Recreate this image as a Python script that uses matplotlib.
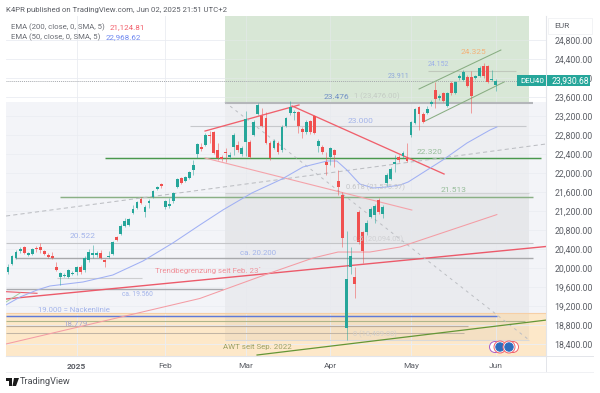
import matplotlib
matplotlib.use("Agg")
import matplotlib.pyplot as plt
from matplotlib.patches import Rectangle, Circle, Polygon
from matplotlib.transforms import IdentityTransform

plt.rcParams['font.family'] = ['Roboto', 'DejaVu Sans']

opens = [19916,20085,20211,20358,20443,20274,20295,20432,20443,20358,20274,20253,20022,19811,19832,19811,19874,19916,20022,19958,
 20169,20274,20274,20316,20169,20232,20295,20653,20716,20885,20906,21158,21264,21453,21179,21369,21495,21664,21769,21285,
 21306,21411,21706,21895,21832,21895,22063,22400,22548,22590,22800,22863,22484,22337,22442,22337,22548,22590,22400,22653,
 22653,22800,23242,23200,23158,22632,22527,22632,22484,22990,23263,23263,23284,22927,22863,23095,23200,22569,22548,22232,
 22337,22484,21832,21537,18738,20022,19811,21179,20758,20758,21074,21116,21432,21137,21790,21874,22190,22337,22358,22316,
 22800,23053,23390,23242,23263,23453,23747,23579,23684,23411,23895,23684,24000,23958,24021,24021,24000,24042,24253,24253,
 23958,23853]
closes = [20022,20243,20337,20400,20316,20316,20400,20400,20390,20295,20232,20211,19958,19895,19853,19958,19895,20022,19916,20211,
 20337,20306,20306,20211,20127,20253,20548,20590,20885,20990,21032,21243,21390,21369,21285,21411,21621,21706,21727,21411,
 21348,21579,21874,21790,21916,22021,22169,22611,22505,22800,22779,22421,22316,22295,22421,22379,22800,22484,22527,23137,
 22337,23074,23432,22990,22632,22316,22674,22442,22969,23158,23390,23284,22990,22863,23074,22863,22842,22674,22442,22169,
 22527,22379,21706,20632,19769,20253,19664,20548,20358,20948,21243,21306,21179,21285,21958,22084,22232,22274,22421,22253,
 23074,23348,23242,23074,23348,23495,23558,23621,23516,23684,23684,23916,24032,24126,23832,23621,24032,24211,24042,23916,
 23979,23930.68]
highs = [20085,20274,20379,20443,20464,20337,20422,20464,20527,20379,20316,20337,20127,19916,19895,19979,19937,20043,20064,20253,
 20400,20485,20358,20379,20190,20358,20569,20674,20927,21053,21053,21327,21411,21495,21327,21453,21642,21727,21790,21432,
 21474,21600,21895,21916,21937,22042,22274,22632,22632,22842,22884,22884,22632,22379,22527,22442,22842,22674,22569,23305,
 22695,23116,23474,23369,23284,22674,22716,22674,23011,23179,23516,23326,23305,22969,23116,23116,23221,22716,22590,22442,
 22548,22505,22063,21600,20779,20443,20022,21221,20779,21011,21285,21348,21474,21327,22000,22127,22379,22379,22463,22632,
 23095,23369,23411,23284,23411,23537,23916,23663,23705,23705,23937,23937,24084,24168,24063,24147,24063,24253,24316,24274,
 24168,23979]
lows = [19874,20064,20190,20316,20295,20253,20274,20337,20316,20274,20211,20190,19937,19643,19811,19790,19853,19853,19874,19916,
 20127,20211,20232,20190,20022,20211,20274,20569,20695,20864,20885,21137,21243,21348,21074,21264,21474,21642,21685,21243,
 21264,21369,21685,21769,21811,21874,21958,22316,22463,22569,22632,22400,22274,22253,22232,22295,22379,22442,22358,22358,
 22316,22779,23221,22969,22611,22274,22505,22400,22442,22969,23221,23116,22842,22737,22821,22821,22821,22442,22400,21958,
 22169,22127,21537,20443,18485,19874,19369,20506,20106,20695,21053,20948,21137,21053,21727,21853,22021,22232,22316,22232,
 22758,23032,22905,23053,23242,23411,23369,23537,23495,23390,23642,23663,23958,23937,23811,23263,23979,24021,24000,23895,
 23937,23726]

ema50_x = [-0.5,3,7.2,10.4,18.6,26,33.5,40.9,47.6,53.3,60.5,68,73.2,79.2,81.6,84.1,87.3,90.6,94,97.3,99.3,107.9,113.9,119.6,121.3]
ema50_y = [19222,19390,19537,19622,19706,19853,20148,20527,20906,21221,21579,21874,22127,22253,22253,22063,21769,21685,21706,21748,21811,22274,22632,22905,22968.62]
ema200_x = [-0.5,47.6,65,75.7,81.9,89.8,97.3,121.3]
ema200_y = [18401,19359,19895,20211,20337,20337,20443,21124.81]

month_pos = [17,39,59,80,100,121]
month_labels = ['2025','Feb','Mar','Apr','May','Jun']
price_ticks = list(range(18400,25000,400))

# level, start bar, end bar, colour, width
levels = [
 (23476,53.8,130.3,'#b4b6ba',1.5),
 (23000,45.2,128.5,'#c6c8cc',0.8),
 (24152,104.2,126,'#c0c8bc',0.8),
 (22320,24,132.3,'#4a984d',1.05),
 (21575.97,53.8,129.3,'#d2d3d5',0.8),
 (21495,13,130.2,'#8ab085',1.05),
 (20522,-0.5,130.3,'#c4c5c8',0.8),
 (20215,1.7,130.3,'#a8a9ac',1.0),
 (19800,12.2,33.2,'#cdced0',0.8),
 (19560,-0.5,53.3,'#a9aaaf',1.0),
 (19053,-0.5,133.5,'#f6cfa6',0.8),
 (19000,-0.5,121.3,'#5f7ad8',1.05),
 (18895,-0.5,128.3,'#aeb68c',0.8),
 (18779,-0.5,114.2,'#bbac9c',0.85),
 (18622,-0.5,113.2,'#c2b5a5',0.75),
 (18485,53.8,129.3,'#d9d9d9',0.8),
]
# start bar, start price, end bar, end price, colour, width, style
trends = [
 (48.9,22884,72.2,23432,'#f0606c',0.95,'-'),
 (70.5,23411,108.2,21979,'#f0606c',0.95,'-'),
 (48.9,22316,100.2,21221,'#f5a3aa',0.8,'-'),
 (-0.5,19348,133.5,20453,'#ec5a6a',1.0,'-'),
 (-0.5,19502,7.2,19468,'#ec5a6a',0.8,'-'),
 (-0.5,21095,133.5,22611,'#bcbec3',0.75,(0,(4,3))),
 (53.8,23495,129.3,18485,'#bcbec3',0.7,(0,(3,4))),
 (102,23769,122.3,24589,'#88ad82',0.75,'-'),
 (103.5,23095,123.1,23916,'#88ad82',0.75,'-'),
 (61.8,18169,133.7,18906,'#649636',0.9,'-'),
 (-0.5,19285,3,19474,'#a6cba3',0.7,'-'),
]

W, H = 600, 393
fig = plt.figure(figsize=(W/100, H/100), dpi=100, facecolor='white')
L, R, T, B = 6, 546, 16, 356
ax = fig.add_axes([L/W, 1-B/H, (R-L)/W, (B-T)/H], facecolor='white')
ax.set_xlim((L-8)/4.03, (R-8)/4.03)
ax.set_ylim(25642-21.05*B, 25642-21.05*T)
for s in ['top','left']:
    ax.spines[s].set_visible(False)
ax.spines['right'].set_color('#e3e5ea'); ax.spines['bottom'].set_color('#e3e5ea')
ax.spines['right'].set_linewidth(0.8); ax.spines['bottom'].set_linewidth(0.8)

ax.set_yticks(price_ticks)
ax.set_yticklabels([f'{p:,.2f}' for p in price_ticks], fontsize=6.3, color='#5c5f66')
ax.yaxis.tick_right()
ax.tick_params(axis='y', length=0, pad=6)
ax.set_xticks(month_pos)
ax.set_xticklabels(month_labels, fontsize=6.0, color='#5c5f66')
ax.get_xticklabels()[0].set_fontweight('bold')
ax.tick_params(axis='x', length=0, pad=5)
ax.grid(True, color='#f0f2f6', lw=0.6, zorder=0)
ax.set_axisbelow(True)

xl = ax.get_xlim(); yl = ax.get_ylim()
ax.fill_between(xl, 19053, 23495, color='#f3f4f8', lw=0, zorder=0.5)
ax.fill_between(xl, yl[0], 19053, color='#fde8c9', lw=0, zorder=0.5)
ax.fill_between([53.8,129.3], 23495, yl[1], color='#d8e7d6', lw=0, zorder=0.6)
ax.fill_between([53.8,129.3], 21575.97, 23476, color='#808080', alpha=0.05, lw=0, zorder=0.6)
ax.fill_between([53.8,129.3], 20522, 21575.97, color='#808080', alpha=0.11, lw=0, zorder=0.6)
ax.fill_between([53.8,129.3], 18485, 20522, color='#808080', alpha=0.07, lw=0, zorder=0.6)
for gp in price_ticks:
    ax.plot(xl, [gp,gp], color='#e8eaf0', lw=0.5, zorder=0.7, alpha=0.6)
for gx in month_pos:
    ax.plot([gx,gx], yl, color='#e8eaf0', lw=0.5, zorder=0.7, alpha=0.7)

ax.axhline(closes[-1], color='#a6a9ae', lw=0.7, ls=(0,(1,1)), zorder=1.5)
for p,x0,x1,c,w in levels:
    ax.plot([x0,x1],[p,p],color=c,lw=w,zorder=2,solid_capstyle='butt')
for x0,y0,x1,y1,c,w,st in trends:
    ax.plot([x0,x1],[y0,y1],color=c,lw=w,ls=st,zorder=2.2)
ax.plot(ema200_x, ema200_y, color='#f49ca4', lw=0.75, zorder=2.3)
ax.plot(ema50_x, ema50_y, color='#a0b0f4', lw=0.75, zorder=2.3)

UP, DOWN = '#26a69a', '#f0504f'
idx = list(range(len(opens)))
cols = [UP if c >= o else DOWN for o, c in zip(opens, closes)]
ax.vlines(idx, lows, highs, colors=cols, lw=0.6, alpha=0.6, zorder=3)
ax.bar(idx, [max(abs(c-o),25) for o,c in zip(opens,closes)],
       bottom=[min(o,c) for o,c in zip(opens,closes)], width=0.7, color=cols, lw=0, zorder=3.1)

def T_(x, y, s, **kw):
    kw.setdefault('fontsize', 6.2); kw.setdefault('va', 'center')
    return fig.text(x/W, 1-y/H, s, zorder=6, **kw)

T_(6,10,'K4PR published on TradingView.com, Jun 02, 2025 21:51 UTC+2',color='#5c5f66',fontsize=5.6)
T_(11,27,'EMA (200, close, 0, SMA, 5)',color='#6a6d74',fontsize=5.6)
T_(110,27,'21,124.81',color='#f2606c',fontsize=5.8)
T_(11,37,'EMA (50, close, 0, SMA, 5)',color='#6a6d74',fontsize=5.6)
T_(106,37,'22,968.62',color='#6f88f0',fontsize=5.8)

T_(461,52,'24.325',color='#f3b27a',fontsize=6)
T_(428,64,'24.152',color='#9cb0e8',fontsize=5.0)
T_(388,77,'23.911',color='#8fa8dc',fontsize=5.0)
T_(324,97,'23.476',color='#6f8fc4',fontsize=6)
T_(354,96.5,'1 (23,476.00)',color='#c4ccc4',fontsize=5.6)
T_(348,121,'23.000',color='#a3b4ea',fontsize=6)
T_(417,152,'22.320',color='#97bd9a',fontsize=6)
T_(441,190,'21.513',color='#97bd9a',fontsize=6)
T_(346,187,'0.618 (21,575.97)',color='#c4c5c8',fontsize=5.4)
T_(353,239,'0.5 (20,094.03)',color='#d0d1d4',fontsize=5.4)
T_(70,236.5,'20.522',color='#a3b4ea',fontsize=6)
T_(240,253,'ca. 20.200',color='#a3b4ea',fontsize=5.6)
T_(155,271,'Trendbegrenzung seit Feb. 23´',color='#f0919a',fontsize=5.7)
T_(122,294,'ca. 19.560',color='#a3b4ea',fontsize=4.8)
T_(38,309.5,'19.000 = Nackenlinie',color='#a3b4ea',fontsize=5.6)
T_(63,324,'18.779',color='#a6a6cc',fontsize=5.7)
T_(223,347,'AWT seit Sep. 2022',color='#9da266',fontsize=5.7)
T_(353,334,'0 (18,409.00)',color='#d3d0cc',fontsize=5.4)

def P(p):
    p.set_transform(fig.transFigure); p.set_zorder(5); fig.add_artist(p)
def box(x0,y0,x1,y1,**kw):
    P(Rectangle((x0/W,1-y1/H),(x1-x0)/W,(y1-y0)/H,**kw))

box(517,75,546,86,fc='#26a69a',ec='none')
box(547,75,590,86,fc='#26a69a',ec='none')
T_(520,80.7,'DEU40',color='white',fontsize=5.8)
T_(552,80.7,'23,930.68',color='white',fontsize=6.2)
box(548,18,592,34,fc='white',ec='#f0f1f4',lw=0.6)
T_(554,26.5,'EUR',color='#5c5f66',fontsize=6.0)

fig.add_artist(plt.Line2D([546/W,546/W],[1-356/H,1-372/H],color='#e3e5ea',lw=0.7,zorder=4))
fig.add_artist(plt.Line2D([546/W,593/W],[1-356/H,1-356/H],color='#e3e5ea',lw=0.7,zorder=4))
fig.add_artist(plt.Line2D([6/W,593/W],[1-372/H,1-372/H],color='#f0f1f4',lw=0.7,zorder=4))

# event markers
for x,ec,fc,r in [(495,'#a65fc8','white',5.5),(500,'#f0606c','white',6),(500,'#2f6dbd','#2f6dbd',4.2),
                  (513,'#f0606c','white',5.5),(509,'#f0606c','white',6),(509,'#2f6dbd','#2f6dbd',4.2)]:
    fig.add_artist(Circle((x,H-347),r,fc=fc,ec=ec,lw=0.7,zorder=5,transform=IdentityTransform()))

# TradingView logo
P(Polygon([(6/W,1-378/H),(12/W,1-378/H),(12/W,1-386/H),(9/W,1-386/H),(9/W,1-381/H),(6/W,1-381/H)],fc='#1a1a1a',ec='none'))
P(Polygon([(14/W,1-378/H),(19/W,1-378/H),(16/W,1-386/H),(12.5/W,1-386/H)],fc='#1a1a1a',ec='none'))
T_(20,382,'TradingView',color='#4a4d52',fontsize=6.6)

fig.savefig('out.png', dpi=100)
